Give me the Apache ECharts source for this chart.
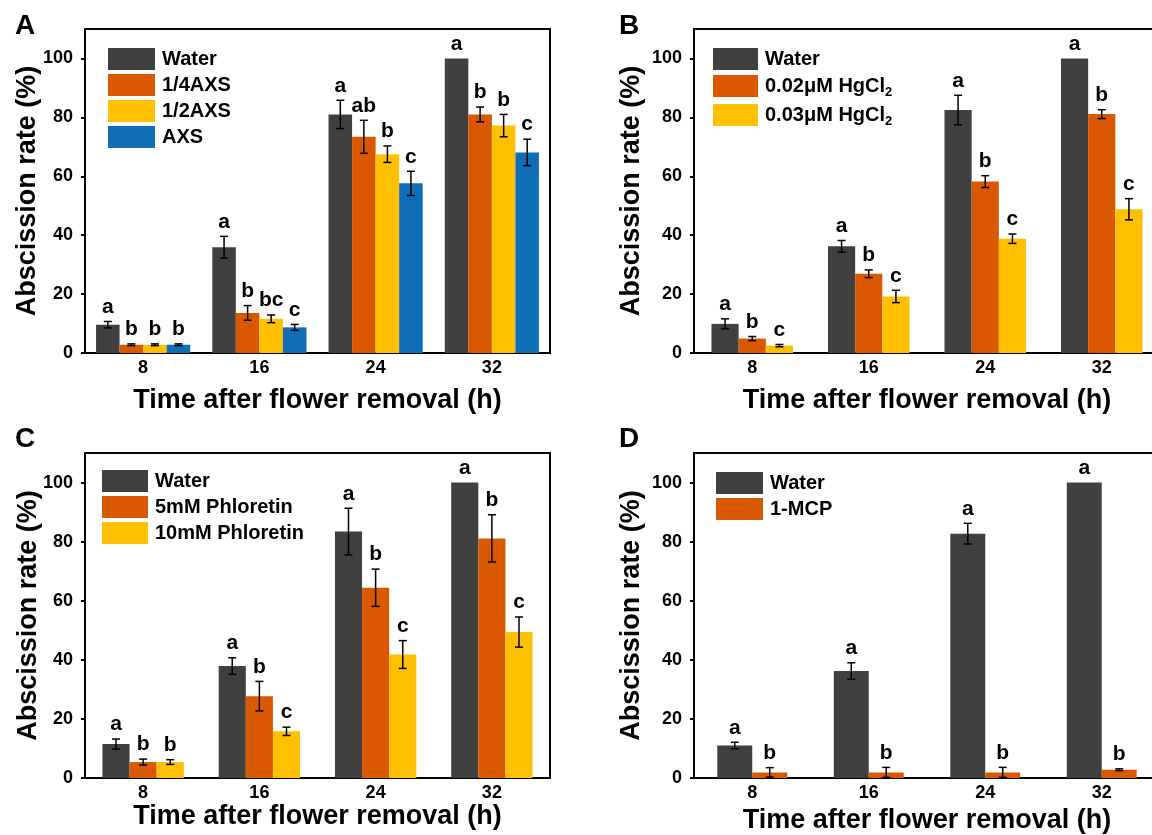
<!DOCTYPE html>
<html>
<head>
<meta charset="utf-8">
<script src="https://cdn.jsdelivr.net/npm/echarts@6/dist/echarts.min.js"></script>
<style>
body{margin:0;background:#fff}
#main{width:1152px;height:835px}
</style>
</head>
<body>
<div id="main"></div>
<script>
var hours = ['8', '16', '24', '32'];

// A - AXS
var namesA = ['Water', '1/4AXS', '1/2AXS', 'AXS'];
var meanA = [[9.6, 35.9, 81.0, 100], [2.8, 13.6, 73.4, 81.0], [2.8, 11.6, 67.5, 77.2], [2.8, 8.7, 57.6, 68.1]];
var errA = [[1.1, 3.7, 4.8, 0], [0.3, 2.5, 5.6, 2.5], [0.3, 1.3, 2.8, 3.8], [0.3, 1.0, 4.1, 4.5]];
var sigA = [['a', 'a', 'a', 'a'], ['b', 'b', 'ab', 'b'], ['b', 'bc', 'b', 'b'], ['b', 'c', 'c', 'c']];

// B - HgCl2
var namesB = ['Water', '0.02μM HgCl2', '0.03μM HgCl2'];
var meanB = [[9.9, 36.2, 82.5, 100], [4.9, 26.9, 58.2, 81.1], [2.5, 19.2, 38.8, 48.8]];
var errB = [[1.7, 2.0, 5.0, 0], [0.7, 1.3, 2.0, 1.5], [0.4, 2.1, 1.6, 3.6]];
var sigB = [['a', 'a', 'a', 'a'], ['b', 'b', 'b', 'b'], ['c', 'c', 'c', 'c']];

// C - Phloretin
var namesC = ['Water', '5mM Phloretin', '10mM Phloretin'];
var meanC = [[11.5, 37.9, 83.4, 100], [5.4, 27.7, 64.4, 81.1], [5.4, 15.8, 41.8, 49.4]];
var errC = [[1.7, 2.8, 7.9, 0], [1.0, 5.0, 6.3, 8.0], [0.8, 1.4, 4.7, 5.1]];
var sigC = [['a', 'a', 'a', 'a'], ['b', 'b', 'b', 'b'], ['b', 'c', 'c', 'c']];

// D - 1-MCP
var namesD = ['Water', '1-MCP'];
var meanD = [[11.0, 36.2, 82.7, 100], [1.9, 1.9, 1.9, 2.8]];
var errD = [[1.1, 2.8, 3.5, 0], [1.6, 1.7, 1.7, 0.3]];
var sigD = [['a', 'a', 'a', 'a'], ['b', 'b', 'b', 'b']];

var colors = ['#404040', '#d95800', '#ffc000', '#106eb6'];
var FONT = '"Liberation Sans", Arial, sans-serif';

var panels = [
  {tag: 'A', names: namesA, mean: meanA, err: errA, sig: sigA, gap: 0.19,
   grid: {left: 85, top: 29, width: 465, height: 324}, lg: {left: 108, top: 48, w: 47, gap: 4},
   xGap: 34, yGap: 44, lx: 15, ly: 12},
  {tag: 'B', names: namesB, mean: meanB, err: errB, sig: sigB, gap: 0.30,
   grid: {left: 694, top: 29, width: 466, height: 324}, lg: {left: 713, top: 48, w: 45, gap: 5},
   xGap: 34, yGap: 49, lx: 619, ly: 12},
  {tag: 'C', names: namesC, mean: meanC, err: errC, sig: sigC, gap: 0.30,
   grid: {left: 85, top: 453, width: 465, height: 325}, lg: {left: 102, top: 470, w: 46, gap: 4},
   xGap: 24, yGap: 43, lx: 15, ly: 425},
  {tag: 'D', names: namesD, mean: meanD, err: errD, sig: sigD, gap: 0.40,
   grid: {left: 694, top: 453, width: 466, height: 325}, lg: {left: 716, top: 472, w: 47, gap: 4},
   xGap: 29, yGap: 49, lx: 619, ly: 425}
];

function errorBars(p, k) {
  var n = p.names.length;
  return function (params, api) {
    var i = api.value(0);
    var m = api.value(1), e = api.value(2);
    var band = api.size([1, 0])[0];
    var w = band * (1 - p.gap);
    var bw = w / n;
    var cx = api.coord([i, 0])[0] - w / 2 + bw * (k + 0.5);
    var yt = api.coord([i, m + e])[1];
    var yb = api.coord([i, m - e])[1];
    var ls = {stroke: '#000', lineWidth: 1.5};
    var kids = [];
    if (e > 0) {
      kids.push({type: 'line', shape: {x1: cx, y1: yt, x2: cx, y2: yb}, style: ls});
      kids.push({type: 'line', shape: {x1: cx - 4, y1: yt, x2: cx + 4, y2: yt}, style: ls});
      kids.push({type: 'line', shape: {x1: cx - 4, y1: yb, x2: cx + 4, y2: yb}, style: ls});
    }
    kids.push({type: 'text', style: {x: cx, y: yt - 4, text: p.sig[k][params.dataIndex],
      align: 'center', verticalAlign: 'bottom', font: 'bold 21px ' + FONT, fill: '#000'}});
    return {type: 'group', children: kids};
  };
}

var grids = [], xAxes = [], yAxes = [], series = [], legends = [], graphics = [];

panels.forEach(function (p, g) {
  var gr = Object.assign({show: true, borderColor: '#000', borderWidth: 2, outerBoundsMode: 'none'}, p.grid);
  grids.push(gr);
  xAxes.push({
    type: 'category', gridIndex: g, data: hours,
    axisLine: {lineStyle: {color: '#000', width: 2}},
    axisTick: {length: 4, lineStyle: {color: '#000', width: 2}},
    axisLabel: {color: '#000', fontSize: 18, fontWeight: 'bold', fontFamily: FONT, margin: 6},
    name: 'Time after flower removal (h)', nameLocation: 'middle', nameGap: p.xGap,
    nameTextStyle: {color: '#000', fontSize: 27, fontWeight: 'bold', fontFamily: FONT}
  });
  yAxes.push({
    type: 'value', gridIndex: g, min: 0, max: 110, interval: 20,
    splitLine: {show: false},
    axisLine: {show: true, lineStyle: {color: '#000', width: 2}},
    axisTick: {show: true, length: 4, lineStyle: {color: '#000', width: 2}},
    axisLabel: {color: '#000', fontSize: 18, fontWeight: 'bold', fontFamily: FONT, margin: 12, showMaxLabel: false},
    name: 'Abscission rate (%)', nameLocation: 'middle', nameGap: p.yGap, nameMoveOverlap: false,
    nameTextStyle: {color: '#000', fontSize: 27, fontWeight: 'bold', fontFamily: FONT}
  });
  p.names.forEach(function (nm, k) {
    series.push({
      type: 'bar', name: nm, xAxisIndex: g, yAxisIndex: g,
      data: p.mean[k], barGap: '0%', barCategoryGap: (p.gap * 100) + '%',
      itemStyle: {color: colors[k]}
    });
  });
  p.names.forEach(function (nm, k) {
    series.push({
      type: 'custom', name: 'err' + p.tag + k, xAxisIndex: g, yAxisIndex: g,
      coordinateSystem: 'cartesian2d', silent: true, z: 5,
      data: p.mean[k].map(function (v, i) { return [i, v, p.err[k][i]]; }),
      renderItem: errorBars(p, k)
    });
  });
  legends.push({
    data: p.names, orient: 'vertical', left: p.lg.left, top: p.lg.top, padding: 0,
    itemWidth: p.lg.w, itemHeight: 22, itemGap: p.lg.gap, icon: 'rect', selectedMode: false,
    formatter: function (nm) {
      if (nm.indexOf('HgCl2') >= 0) return '{m|' + nm.slice(0, -1) + '}{s|2}';
      return nm;
    },
    textStyle: {color: '#000', fontSize: 20, fontWeight: 'bold', fontFamily: FONT, padding: [0, 0, 0, 2],
      rich: {
        m: {color: '#000', fontSize: 20, fontWeight: 'bold', fontFamily: FONT, lineHeight: 26, verticalAlign: 'middle'},
        s: {color: '#000', fontSize: 13, fontWeight: 'bold', fontFamily: FONT, lineHeight: 13, verticalAlign: 'bottom'}
      }}
  });
  graphics.push({type: 'text', left: p.lx, top: p.ly,
    style: {text: p.tag, font: 'bold 28px ' + FONT, fill: '#000'}});
});

var chart = echarts.init(document.getElementById('main'));
chart.setOption({
  animation: false,
  backgroundColor: '#fff',
  grid: grids,
  xAxis: xAxes,
  yAxis: yAxes,
  legend: legends,
  graphic: graphics,
  series: series
});
</script>
</body>
</html>
